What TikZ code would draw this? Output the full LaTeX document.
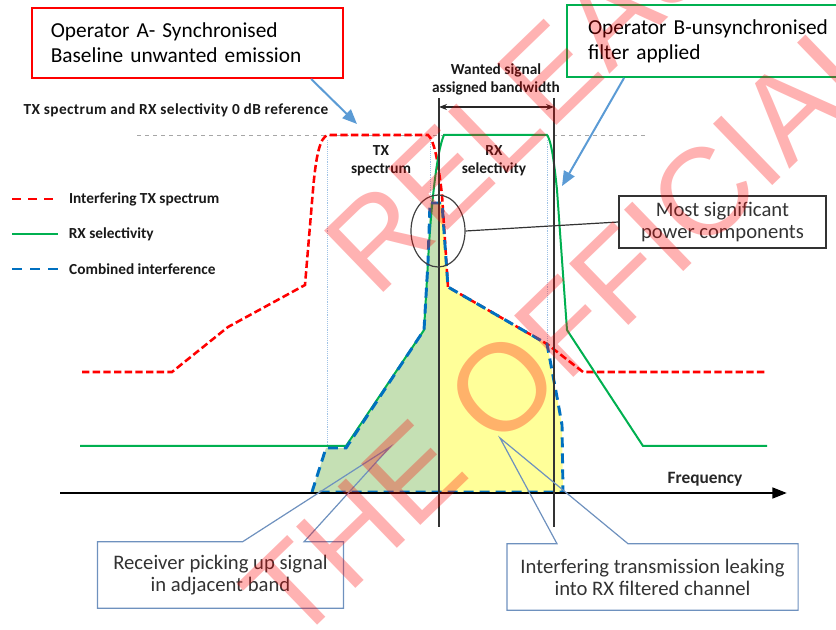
\documentclass[tikz,border=0pt]{standalone}
\usepackage{fontspec}
\setmainfont{Carlito}
\newfontfamily\wmfont{Liberation Sans}
\usetikzlibrary{arrows.meta,calc,shapes.geometric}
\definecolor{txred}{RGB}{255,0,0}
\definecolor{rxgreen}{RGB}{0,176,80}
\definecolor{cbblue}{RGB}{0,112,192}
\definecolor{arrblue}{RGB}{91,155,213}
\definecolor{callblue}{RGB}{110,145,190}
\definecolor{lowfill}{RGB}{197,224,180}
\definecolor{highfill}{RGB}{255,255,153}
\definecolor{dotblue}{RGB}{160,195,230}
\tikzset{
	txline/.style={txred, line width=1.9pt, dash pattern=on 5.5pt off 2.5pt},
	rxline/.style={rxgreen, line width=1.5pt},
	cbline/.style={cbblue, line width=2.2pt, dash pattern=on 7.5pt off 4.5pt},
	smalltext/.style={font=\fontsize{11.5}{13.5}\selectfont\bfseries, text=black!90},
	boxtext/.style={font=\fontsize{16}{18.75}\selectfont, align=left},
	calltext/.style={font=\fontsize{15.5}{16.5}\selectfont, text=black!80, align=center},
	callline/.style={callblue, line width=0.9pt},
	bluearrow/.style={arrblue, line width=1.5pt, -{Triangle[length=11pt,width=9pt]}},
	watermark/.style={font=\wmfont\fontsize{93}{93}\selectfont, text=red, text opacity=0.3, inner sep=0pt}
}
\begin{document}
\begin{tikzpicture}[x=0.75pt, y=-0.75pt]
			\useasboundingbox (0,0) rectangle (836,630);
			\coordinate (r1) at (82,372);
			\coordinate (r2) at (172,372);
			\coordinate (r3) at (228,327);
			\coordinate (r4) at (305,285);
			\coordinate (r5) at (313,190);
			\coordinate (r6) at (328,135);
			\coordinate (r7) at (428,135);
			\coordinate (r8) at (442,195);
			\coordinate (r9) at (448,287);
			\coordinate (r10) at (547,344);
			\coordinate (r11) at (583,372);
			\coordinate (r12) at (767,372);
			\coordinate (g1) at (80,446);
			\coordinate (g2) at (346,446);
			\coordinate (g3) at (424,330);
			\coordinate (g4) at (428,262);
			\coordinate (g5) at (444,135);
			\coordinate (g6) at (547,135);
			\coordinate (g7) at (557,190);
			\coordinate (g8) at (567,330);
			\coordinate (g9) at (643,446);
			\coordinate (g10) at (767,446);
			\coordinate (c1) at (312,492);
			\coordinate (c2) at (326,448);
			\coordinate (c3) at (346,448);
			\coordinate (c5) at (430,203);
			\coordinate (c6) at (442,203);
			\coordinate (c9) at (557,397);
			\coordinate (c10) at (562,425);
			\coordinate (c11) at (563,492);
			\coordinate (mt) at (439,203);
			\coordinate (mb) at (439,492);
			\fill[lowfill] (c1) -- (c2) -- (c3) -- (g3) -- (g4) -- (c5) -- (mt) -- (mb) -- cycle;
			\fill[highfill] (mt) -- (c6) -- (r9) -- (r10) -- (c9) -- (c10) -- (c11) -- (mb) -- cycle;
			\draw[dotblue, densely dotted, thin] (327,140) to (327,447);
			\draw[dotblue, densely dotted, thin] (430,140) to (430,200);
			\draw[dotblue, densely dotted, thin] (547,140) to (547,340);
			\draw[black!35, dashed, thin] (137,135) to (645,135);
			\draw[txline] (r1) -- (r2) -- (r3) -- (r4) -- (r5) .. controls (316,155) and (320,137) .. (r6) -- (r7) .. controls (434,140) and (438,160) .. (r8) -- (r9) -- (r10) -- (r11) -- (r12);
			\draw[rxline] (g1) -- (g2) -- (g3) -- (g4) .. controls (431,205) and (437,150) .. (g5) -- (g6) .. controls (551,140) and (554,160) .. (g7) -- (g8) -- (g9) -- (g10);
			\draw[cbline] (c1) -- (c2) -- (c3) -- (g3) -- (g4) -- (c5) -- (c6) -- (r9) -- (r10) -- (c9) -- (c10) -- (c11) -- cycle;
			\coordinate (ax0) at (60,493);
			\coordinate (ax1) at (787,493);
			\draw[line width=2pt, -{Triangle[length=11pt,width=8pt]}] (ax0) to (ax1);
			\node[font=\fontsize{13}{15}\selectfont\bfseries, text=black!85] (freq) at (705,479) {Frequency};
			\coordinate (bwLt) at (439,98);
			\coordinate (bwLb) at (439,527);
			\coordinate (bwRt) at (554,98);
			\coordinate (bwRb) at (554,527);
			\draw[black!80, line width=1pt] (bwLt) to (bwLb);
			\draw[black!80, line width=1pt] (bwRt) to (bwRb);
			\draw[black!85, line width=0.8pt, {Stealth[length=6pt]}-{Stealth[length=6pt]}] ($(bwLt)+(0,9)$) to ($(bwRt)+(0,9)$);
			\node[smalltext, align=center] (bw) at (496,79) {Wanted signal\\assigned bandwidth};
			\node[smalltext, align=center] (txlab) at (381,161) {TX\\spectrum};
			\node[smalltext, align=center] (rxlab) at (494,161) {RX\\selectivity};
			\node[smalltext, anchor=west] (ref) at (19,110) {\addfontfeatures{LetterSpace=2.5}TX spectrum and RX selectivity 0 dB reference};
			\coordinate (lg1) at (12,199);
			\coordinate (lg2) at (12,234);
			\coordinate (lg3) at (12,269);
			\draw[txline, dash pattern=on 7pt off 5pt] (lg1) -- ++(46,0) node[smalltext, anchor=west, xshift=4pt] (lgtx) {Interfering TX spectrum};
			\draw[rxline] (lg2) -- ++(46,0) node[smalltext, anchor=west, xshift=4pt] (lgrx) {RX selectivity};
			\draw[cbline, dash pattern=on 7.5pt off 6pt] (lg3) -- ++(46,0) node[smalltext, anchor=west, xshift=4pt] (lgcb) {Combined interference};
			\node[draw=txred, line width=1.5pt, boxtext, inner xsep=14pt, text width=205pt, minimum height=52.5pt] (opA) at (187.5,43) {Operator A- Synchronised\\Baseline unwanted emission};
			\node[draw=rxgreen, line width=1.5pt, boxtext, inner xsep=15.75pt, text width=190pt, minimum height=54pt] (opB) at (714.7,41) {Operator B-unsynchronised\\filter applied};
			\coordinate (tipA) at (357,124);
			\coordinate (tipB) at (562,186);
			\draw[bluearrow] ($(opA.south west)+(280,0)$) to (tipA);
			\draw[bluearrow] ($(opB.south west)+(58,0)$) to (tipB);
			\node[draw=black!75, line width=0.9pt, ellipse, minimum width=40.5pt, minimum height=54pt] (peak) at (438,231) {};
			\node[draw=black!80, line width=1.1pt, calltext, minimum width=155pt, minimum height=39pt] (sig) at (722.5,222) {Most significant\\power components};
			\draw[black!80, line width=0.9pt] (peak.east) to (sig.west);
			\node[calltext, minimum width=184pt, minimum height=49.5pt] (rcv) at (220.5,575) {Receiver picking up signal\\in adjacent band};
			\coordinate (rcvtip) at (390,447);
			\draw[callline] (rcv.north west) -- ($(rcv.north west)!0.59!(rcv.north east)$) -- (rcvtip) -- ($(rcv.north west)!0.84!(rcv.north east)$) -- (rcv.north east) -- (rcv.south east) -- (rcv.south west) -- cycle;
			\node[calltext, minimum width=218pt, minimum height=49.5pt] (leak) at (652.5,577) {Interfering transmission leaking\\into RX filtered channel};
			\coordinate (leaktip) at (500,438);
			\draw[callline] (leak.north west) -- ($(leak.north west)!0.172!(leak.north east)$) -- (leaktip) -- ($(leak.north west)!0.416!(leak.north east)$) -- (leak.north east) -- (leak.south east) -- (leak.south west) -- cycle;
			\begin{scope}
				\clip (0,0) rectangle (836,630);
				\node[watermark, rotate=44, anchor=base west] (wmA) at (376,300) {RELEASED};
				\node[watermark, rotate=44, anchor=base west] (wmB) at (294,648) {THE OFFICIAL};
			\end{scope}
		\end{tikzpicture}
\end{document}
